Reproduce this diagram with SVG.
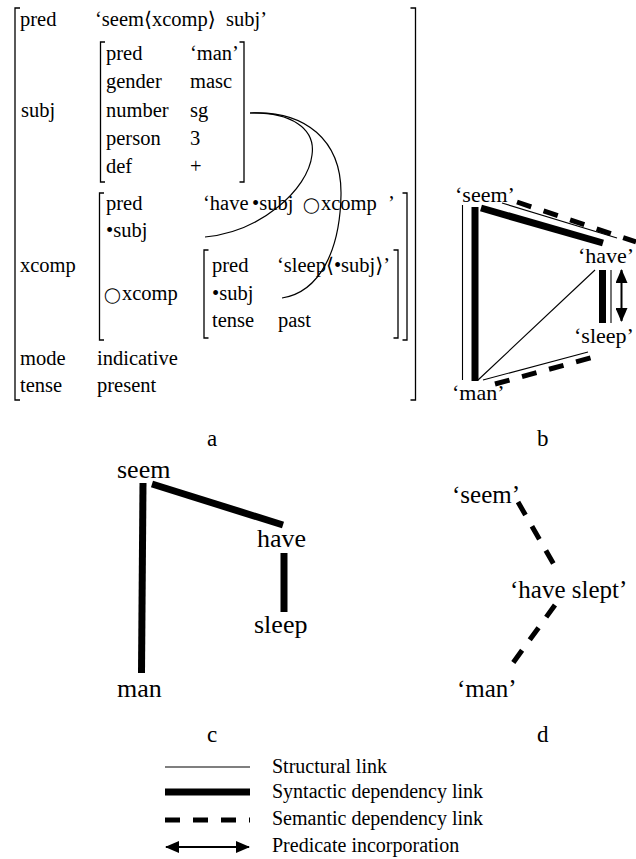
<svg xmlns="http://www.w3.org/2000/svg" width="636" height="859" viewBox="0 0 636 859" font-family="'Liberation Serif', 'DejaVu Serif', serif">
<style>
text{font-family:'Liberation Serif','DejaVu Serif','DejaVu Sans',serif;fill:#000}
.fs{font-size:20.5px}
.b{font-size:22px}
.c{font-size:26px}
.d{font-size:25px}
.lg{font-size:20px}
.lab{font-size:23px}
.circ{font-family:'DejaVu Sans',sans-serif;font-size:15px}
.brk{fill:none;stroke:#000;stroke-width:1.3}
.curve{fill:none;stroke:#000;stroke-width:1.2}
.thin{stroke:#000;stroke-width:1.1;fill:none}
.thick{stroke:#000;stroke-width:7;fill:none}
.dash{stroke:#000;stroke-width:5;stroke-dasharray:15 13;fill:none}
.arr{stroke:#000;stroke-width:2;fill:none}
</style>
<defs>
<marker id="ah" markerUnits="userSpaceOnUse" markerWidth="14" markerHeight="12" refX="13" refY="6" orient="auto-start-reverse">
<path d="M0,0 L14,6 L0,12 Z" fill="#000"/>
</marker>
</defs>

<!-- Panel a: feature structure -->
<g id="fs-a">
<g id="brackets">
<path class="brk" d="M20,8 H15 V400 H20"/>
<path class="brk" d="M410.5,8 H415.5 V400 H410.5"/>
<path class="brk" d="M105,42 H100.5 V182 H105"/>
<path class="brk" d="M239.5,42 H244 V182 H239.5"/>
<path class="brk" d="M104,193 H99.5 V340 H104"/>
<path class="brk" d="M402.5,193 H407 V340 H402.5"/>
<path class="brk" d="M208.5,250 H204 V338 H208.5"/>
<path class="brk" d="M393.5,250 H398 V338 H393.5"/>
</g>
<g id="fs-text" class="fs">
<text x="20" y="26">pred</text>
<text x="95" y="26" xml:space="preserve">‘seem⟨xcomp⟩  subj’</text>
<text x="106" y="60">pred</text><text x="190" y="60">‘man’</text>
<text x="106" y="88">gender</text><text x="190" y="88">masc</text>
<text x="21" y="117">subj</text>
<text x="106" y="117">number</text><text x="190" y="117">sg</text>
<text x="106" y="145">person</text><text x="190" y="145">3</text>
<text x="106" y="173">def</text><text x="190" y="173">+</text>
<text x="106" y="210">pred</text>
<text y="210"><tspan x="203">‘have</tspan><tspan x="252">•subj</tspan><tspan x="303" class="circ">◯</tspan><tspan x="321">xcomp</tspan><tspan x="388">’</tspan></text>
<text x="106" y="237">•subj</text>
<text x="20" y="272">xcomp</text>
<text y="300"><tspan x="104" class="circ">◯</tspan><tspan x="122">xcomp</tspan></text>
<text x="212" y="272">pred</text>
<text x="277" y="272">‘sleep⟨•subj⟩’</text>
<text x="212" y="300">•subj</text>
<text x="212" y="327">tense</text><text x="278" y="327">past</text>
<text x="20" y="365">mode</text><text x="97" y="365">indicative</text>
<text x="20" y="392">tense</text><text x="97" y="392">present</text>
</g>
<g id="fs-links">
<path class="curve" d="M250,113 C290,112 316,128 312,155 C308,190 260,232 205,237"/>
<path class="curve" d="M250,113 C305,110 342,140 341,195 C340,250 320,292 282,298"/>
</g>
</g>

<!-- Panel labels -->
<g id="labels" class="lab">
<text x="207" y="446">a</text>
<text x="537" y="446">b</text>
<text x="207" y="742">c</text>
<text x="537" y="742">d</text>
</g>

<!-- Panel b -->
<g id="b-connectors">
<line class="thin" x1="462.5" y1="205" x2="462.5" y2="380"/>
<line class="thick" x1="475" y1="207" x2="475" y2="381"/>
<line class="thick" x1="481" y1="208" x2="603" y2="243" stroke-width="6.5"/>
<line class="thin" x1="502" y1="203" x2="617" y2="238"/>
<line class="dash" x1="517" y1="202" x2="636" y2="242"/>
<line class="thick" x1="602.5" y1="270" x2="602.5" y2="323"/>
<line class="thin" x1="611" y1="270" x2="611" y2="323"/>
<line class="arr" x1="621.5" y1="270" x2="621.5" y2="321" marker-start="url(#ah)" marker-end="url(#ah)"/>
<line class="thin" x1="478" y1="380" x2="595" y2="270"/>
<line class="thin" x1="483" y1="380" x2="588" y2="352"/>
<line class="dash" x1="495" y1="384" x2="594" y2="357"/>
</g>
<g id="b-seem" class="b"><text x="455" y="202">‘seem’</text></g>
<g id="b-have" class="b"><text x="578" y="263">‘have’</text></g>
<g id="b-sleep" class="b"><text x="574" y="343">‘sleep’</text></g>
<g id="b-man" class="b"><text x="452" y="400">‘man’</text></g>

<!-- Panel c -->
<g id="c-connectors">
<line class="thick" x1="143" y1="483" x2="141.5" y2="673" stroke-width="8"/>
<line class="thick" x1="152" y1="484" x2="283" y2="525" stroke-width="8"/>
<line class="thick" x1="284" y1="553" x2="284" y2="612" stroke-width="8"/>
</g>
<g id="c-seem" class="c"><text x="117" y="478">seem</text></g>
<g id="c-have" class="c"><text x="257" y="547">have</text></g>
<g id="c-sleep" class="c"><text x="254" y="633">sleep</text></g>
<g id="c-man" class="c"><text x="117" y="697">man</text></g>

<!-- Panel d -->
<g id="d-connectors">
<line class="dash" x1="518" y1="502" x2="557" y2="570" stroke-width="6"/>
<line class="dash" x1="555" y1="605" x2="510" y2="667" stroke-width="6"/>
</g>
<g id="d-seem" class="d"><text x="452" y="503">‘seem’</text></g>
<g id="d-haveslept" class="d"><text x="510" y="598">‘have slept’</text></g>
<g id="d-man" class="d"><text x="457" y="697">‘man’</text></g>

<!-- Legend -->
<g id="legend">
<line class="thin" x1="165" y1="767" x2="250" y2="767" stroke-width="1.4"/>
<line class="thick" x1="165" y1="792" x2="250" y2="792" stroke-width="5"/>
<line class="dash" x1="165" y1="820" x2="250" y2="820" stroke-dasharray="12.5 11.5"/>
<line class="arr" x1="166" y1="847" x2="249" y2="847" marker-start="url(#ah)" marker-end="url(#ah)"/>
<g class="lg">
<text x="272" y="773">Structural link</text>
<text x="272" y="798">Syntactic dependency link</text>
<text x="272" y="825">Semantic dependency link</text>
<text x="272" y="852">Predicate incorporation</text>
</g>
</g>
</svg>
